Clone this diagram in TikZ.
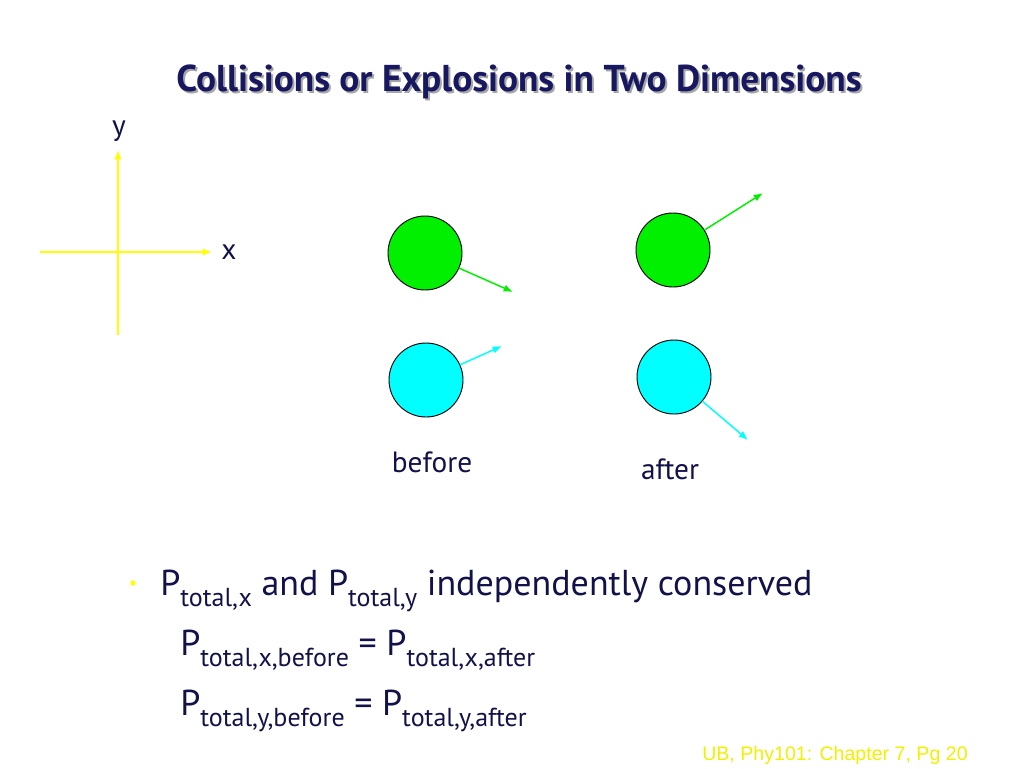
\documentclass[tikz,border=0pt]{standalone}
\usepackage{fontspec}
\setmainfont{PT Sans}
\newfontfamily\footfont{Liberation Sans}
\usetikzlibrary{arrows.meta}
\definecolor{ink}{HTML}{12124A}
\definecolor{titleblue}{HTML}{181860}
\definecolor{axisyellow}{HTML}{FFFF00}
\definecolor{ballgreen}{HTML}{00F000}
\definecolor{ballcyan}{HTML}{00FFFF}
\definecolor{footyellow}{HTML}{F0F000}
\newcommand{\Ptot}[1]{P\raisebox{-0.32em}{\fontsize{19.5}{19.5}\selectfont total,#1}}
\tikzset{
    ball/.style={circle, draw=black, line width=0.7pt, minimum size=55.5pt, inner sep=0pt},
    axis/.style={axisyellow, line width=1.1pt},
    velo/.style={line width=1.1pt},
    word/.style={text=ink, inner sep=0pt}
}
\begin{document}
\begin{tikzpicture}[x=0.75pt, y=-0.75pt, >={Latex[length=7pt,width=5.5pt]}]
        \useasboundingbox (0,0) rectangle (1024,768);

        \node[text=black!35, font=\fontsize{28}{28}\selectfont\bfseries] (titleshadow) at (521,84) {Collisions or Explosions in Two Dimensions};
        \node[text=titleblue, font=\fontsize{28}{28}\selectfont\bfseries] (title) at (519,82) {Collisions or Explosions in Two Dimensions};

        \coordinate (ybot) at (118,335);
        \coordinate (ytop) at (118,150);
        \coordinate (xleft) at (40,252);
        \coordinate (xright) at (212,252);
        \draw[axis, ->] (ybot) -- (ytop);
        \draw[axis, ->] (xleft) -- (xright);
        \node[word, font=\fontsize{22}{22}\selectfont] (ylab) at (119,131) {y};
        \node[word, font=\fontsize{22}{22}\selectfont] (xlab) at (229,252) {x};

        \node[ball, fill=ballgreen] (gb) at (425,253) {};
        \node[ball, fill=ballcyan] (cb) at (426,380) {};
        \node[ball, fill=ballgreen] (ga) at (673,250) {};
        \node[ball, fill=ballcyan] (ca) at (674,377) {};

        \coordinate (gbtip) at (513,292);
        \coordinate (cbtip) at (502,346);
        \coordinate (gatip) at (763,193);
        \coordinate (catip) at (748,440);
        \draw[velo, ballgreen, ->] (gb) -- (gbtip);
        \draw[velo, ballcyan, ->] (cb) -- (cbtip);
        \draw[velo, ballgreen, ->] (ga) -- (gatip);
        \draw[velo, ballcyan, ->] (ca) -- (catip);

        \node[word, font=\fontsize{22}{22}\selectfont] (before) at (432,462) {before};
        \node[word, font=\fontsize{22}{22}\selectfont] (after) at (670,469) {after};

        \node[circle, fill=axisyellow, inner sep=0pt, minimum size=4pt] (dot) at (133,583) {};
        \node[word, anchor=base west, font=\fontsize{27}{27}\selectfont] (line1) at (160,595) {\Ptot{x} and \Ptot{y} independently conserved};
        \node[word, anchor=base west, font=\fontsize{27}{27}\selectfont] (line2) at (180,655) {\Ptot{x,before} = \Ptot{x,after}};
        \node[word, anchor=base west, font=\fontsize{27}{27}\selectfont] (line3) at (180,715) {\Ptot{y,before} = \Ptot{y,after}};

        \node[text=footyellow, anchor=base east, inner sep=0pt, font=\footfont\fontsize{14.7}{14.7}\selectfont] (foot) at (968,760) {UB, Phy101: Chapter 7, Pg 20};
    \end{tikzpicture}
\end{document}
